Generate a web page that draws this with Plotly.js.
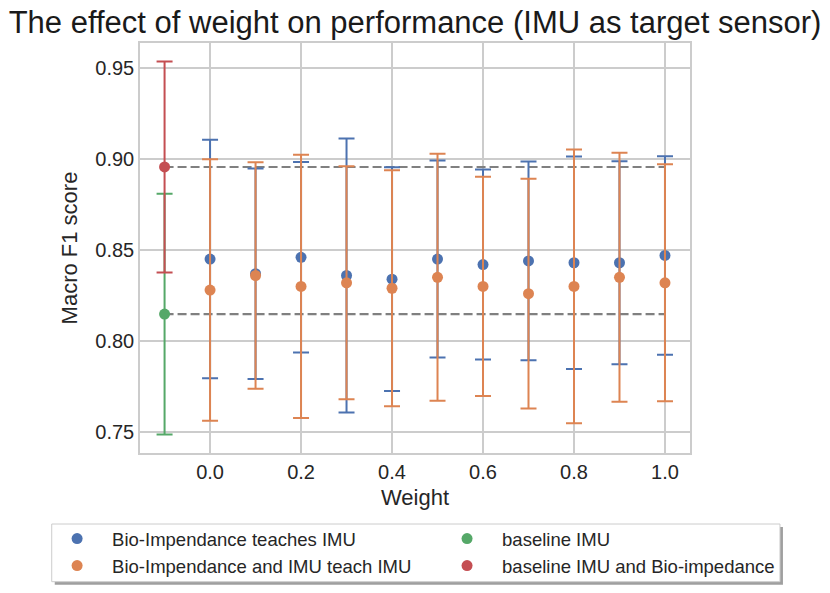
<!DOCTYPE html>
<html>
<head>
<meta charset="utf-8">
<script src="https://cdn.plot.ly/plotly-3.0.1.min.js"></script>
<style>
  body { margin: 0; background: #ffffff; }
  #chart { width: 830px; height: 593px; }
</style>
</head>
<body>
<div id="chart"></div>
<script>
// values
const weights = [0.0, 0.1, 0.2, 0.3, 0.4, 0.5, 0.6, 0.7, 0.8, 0.9, 1.0];
const teachMean = [0.845, 0.837, 0.846, 0.836, 0.834, 0.845, 0.842, 0.844, 0.843, 0.843, 0.847];
const teachErr = [0.0655, 0.0578, 0.0523, 0.0752, 0.0614, 0.0541, 0.0522, 0.0546, 0.0583, 0.0558, 0.0545];
const jointMean = [0.828, 0.836, 0.830, 0.832, 0.829, 0.835, 0.830, 0.826, 0.830, 0.835, 0.832];
const jointErr = [0.0718, 0.0622, 0.0723, 0.0640, 0.0648, 0.0678, 0.0602, 0.0631, 0.0752, 0.0684, 0.0651];
const baselineX = [-0.1];
const baseImuMean = [0.8148];
const baseImuErr = [0.0661];
const baseBothMean = [0.8956];
const baseBothErr = [0.058];
const xTicks = [0.0, 0.2, 0.4, 0.6, 0.8, 1.0];
const yTicks = [0.75, 0.80, 0.85, 0.90, 0.95];

const colors = {
  blue: "#4c72b0",
  orange: "#dd8452",
  green: "#55a868",
  red: "#c44e52",
};
const font = "Liberation Sans, Arial, Helvetica, sans-serif";

function errTrace(name, x, y, err, color, legend) {
  return {
    type: "scatter",
    mode: "markers",
    name: name,
    x: x,
    y: y,
    legend: legend,
    marker: { color: color, size: 11 },
    error_y: { type: "data", array: err, visible: true, color: color, thickness: 2, width: 8 },
    hoverinfo: "x+y",
  };
}

// dashed reference lines at the two baselines
const dashLine = (v) => ({
  type: "scatter",
  mode: "lines",
  x: [baselineX[0], weights[weights.length - 1]],
  y: [v, v],
  showlegend: false,
  hoverinfo: "skip",
  line: { color: "#808080", width: 2.2, dash: "9px,4px" },
});

const data = [
  dashLine(baseBothMean[0]),
  dashLine(baseImuMean[0]),
  errTrace("Bio-Impendance teaches IMU", weights, teachMean, teachErr, colors.blue, "legend"),
  errTrace("Bio-Impendance and IMU teach IMU", weights, jointMean, jointErr, colors.orange, "legend"),
  errTrace("baseline IMU", baselineX, baseImuMean, baseImuErr, colors.green, "legend2"),
  errTrace("baseline IMU and Bio-impedance", baselineX, baseBothMean, baseBothErr, colors.red, "legend2"),
];

const axisStyle = {
  showgrid: true,
  gridcolor: "#cccccc",
  gridwidth: 1.5,
  showline: true,
  linecolor: "#cccccc",
  linewidth: 1.5,
  mirror: true,
  zeroline: false,
  automargin: false,
  ticks: "",
  tickfont: { size: 20, color: "#262626", family: font },
};

const legendStyle = {
  orientation: "v",
  xref: "paper",
  yref: "container",
  xanchor: "left",
  yanchor: "top",
  bgcolor: "rgba(0,0,0,0)",
  borderwidth: 0,
  itemwidth: 60,
  font: { size: 18.5, color: "#262626", family: font },
};

const layout = {
  width: 830,
  height: 593,
  margin: { t: 43, l: 140, r: 140, b: 140 },
  paper_bgcolor: "#ffffff",
  plot_bgcolor: "#ffffff",
  font: { family: font, color: "#262626" },
  title: {
    text: "The effect of weight on performance (IMU as target sensor)",
    xref: "container",
    x: 0.5,
    y: 0.962,
    yanchor: "middle",
    automargin: false,
    font: { size: 31, color: "#1a1a1a", family: font },
  },
  xaxis: Object.assign({}, axisStyle, {
    range: [-0.154, 1.055],
    tickvals: xTicks,
    tickformat: ".1f",
    title: { text: "Weight", font: { size: 22, color: "#262626" }, standoff: 8 },
  }),
  yaxis: Object.assign({}, axisStyle, {
    range: [0.7385, 0.9637],
    tickvals: yTicks,
    tickformat: ".2f",
    title: { text: "Macro F1 score", font: { size: 22, color: "#262626" }, standoff: 12 },
  }),
  legend: Object.assign({}, legendStyle, { x: -0.178, y: 0.1231 }),
  legend2: Object.assign({}, legendStyle, { x: 0.531, y: 0.1231 }),
  shapes: [
    // legend shadow
    {
      type: "rect", xref: "paper", yref: "paper", layer: "above",
      x0: -0.155, x1: 1.169, y0: -0.3212, y1: -0.1805,
      fillcolor: "rgba(80,80,80,0.55)", line: { width: 0 },
    },
    // legend frame
    {
      type: "rect", xref: "paper", yref: "paper", layer: "above",
      x0: -0.1605, x1: 1.1636, y0: -0.3139, y1: -0.1732,
      fillcolor: "#ffffff", line: { color: "#cccccc", width: 1 },
    },
  ],
  showlegend: true,
};

Plotly.newPlot("chart", data, layout, { displayModeBar: false, responsive: false });
</script>
</body>
</html>
